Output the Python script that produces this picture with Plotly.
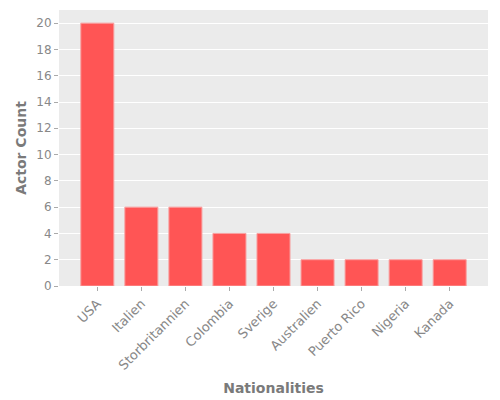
import plotly.graph_objects as go

nationalities = ["USA", "Italien", "Storbritannien", "Colombia", "Sverige",
                 "Australien", "Puerto Rico", "Nigeria", "Kanada"]
actor_counts = [20, 6, 6, 4, 4, 2, 2, 2, 2]

fig = go.Figure()
fig.add_trace(go.Bar(
    x=nationalities,
    y=actor_counts,
    marker=dict(color="#FF5555", line=dict(color="#F8A0A0", width=1)),
))

fig.update_layout(
    width=500,
    height=400,
    margin=dict(l=51, r=20, t=2, b=122),
    paper_bgcolor="white",
    plot_bgcolor="#EBEBEB",
    font=dict(family="DejaVu Sans", color="#7F7F7F", size=12),
    bargap=0.25,
    showlegend=False,
    xaxis=dict(
        title=dict(text="<b>Nationalities</b>", font=dict(size=14, color="#7A7A7A"), standoff=11),
        tickangle=-45,
        range=[-0.87, 8.87],
        showgrid=False,
        automargin=False,
        ticks="outside", ticklen=4, tickcolor="#AAAAAA",
        tickfont=dict(size=13, color="#888888"),
    ),
    yaxis=dict(
        title=dict(text="<b>Actor Count</b>", font=dict(size=14, color="#7A7A7A"), standoff=6),
        range=[0, 21],
        dtick=2,
        gridcolor="white",
        gridwidth=1,
        zeroline=False,
        automargin=False,
        ticks="outside", ticklen=4, tickcolor="#AAAAAA",
        tickfont=dict(size=12, color="#888888"),
    ),
)

fig.write_html("out.html")
